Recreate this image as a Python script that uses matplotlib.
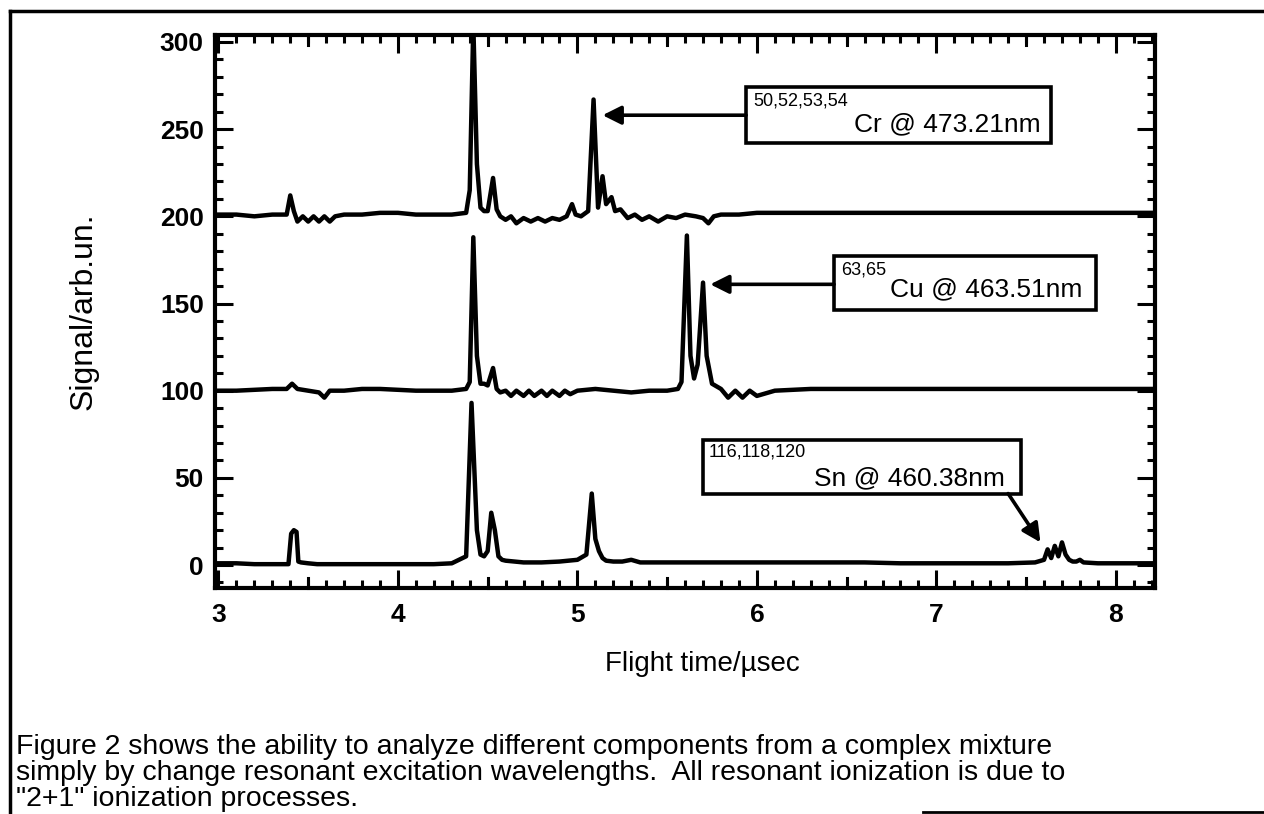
import numpy as np
import matplotlib.pyplot as plt
from matplotlib.patches import Rectangle
from matplotlib.lines import Line2D

plt.rcParams.update(
    {
        "font.family": ["Liberation Sans", "DejaVu Sans"],
        "axes.linewidth": 3.0,
        "xtick.direction": "in",
        "ytick.direction": "in",
    }
)

# trace values (flight time in usec, signal incl. offset)
cr_time = [2.98, 3.10, 3.20, 3.30, 3.38, 3.40, 3.42, 3.44, 3.47, 3.50, 3.53, 3.56,
           3.59, 3.62, 3.65, 3.70, 3.80, 3.90, 4.00, 4.10, 4.20, 4.30, 4.38, 4.40,
           4.42, 4.44, 4.46, 4.48, 4.50, 4.53, 4.55, 4.57, 4.60, 4.63, 4.66, 4.70,
           4.74, 4.78, 4.82, 4.86, 4.90, 4.94, 4.97, 4.99, 5.02, 5.06, 5.09, 5.115,
           5.14, 5.16, 5.19, 5.21, 5.24, 5.28, 5.32, 5.36, 5.40, 5.45, 5.50, 5.55,
           5.60, 5.66, 5.70, 5.73, 5.76, 5.80, 5.90, 6.00, 6.20, 6.50, 7.00, 7.50,
           8.00, 8.22]
cr_signal = [201, 201, 200, 201, 201, 212, 203, 197, 200, 197, 200, 197,
             200, 197, 200, 201, 201, 202, 202, 201, 201, 201, 202, 215,
             310, 230, 205, 203, 203, 222, 204, 200, 198, 200, 196, 199,
             197, 199, 197, 199, 198, 200, 207, 201, 200, 203, 267, 205,
             223, 207, 211, 203, 204, 199, 201, 198, 200, 197, 200, 199,
             201, 200, 199, 196, 200, 201, 201, 202, 202, 202, 202, 202,
             202, 202]

cu_time = [2.98, 3.10, 3.20, 3.30, 3.38, 3.41, 3.44, 3.50, 3.56, 3.59, 3.62, 3.70,
           3.80, 3.90, 4.00, 4.10, 4.20, 4.30, 4.38, 4.40, 4.42, 4.44, 4.46, 4.48,
           4.50, 4.53, 4.55, 4.57, 4.60, 4.63, 4.66, 4.70, 4.73, 4.76, 4.80, 4.83,
           4.86, 4.90, 4.93, 4.96, 5.00, 5.10, 5.20, 5.30, 5.40, 5.50, 5.56, 5.58,
           5.61, 5.63, 5.65, 5.67, 5.70, 5.72, 5.75, 5.80, 5.84, 5.88, 5.92, 5.96,
           6.00, 6.10, 6.30, 6.60, 7.00, 7.50, 8.00, 8.22]
cu_signal = [100, 100, 100.5, 101, 101, 104, 101, 100, 99, 96, 100, 100,
             101, 101, 100.5, 100, 100, 100, 101, 105, 188, 120, 104, 104,
             103, 113, 101, 99, 100, 97, 100, 97, 100, 97, 100, 97,
             100, 97, 100, 98, 100, 101, 100, 99, 100, 100, 101, 105,
             189, 120, 107, 115, 162, 120, 104, 101, 96, 100, 96, 100,
             97, 100, 101, 101, 101, 101, 101, 101]

sn_time = [2.98, 3.10, 3.20, 3.30, 3.39, 3.405, 3.42, 3.435, 3.445, 3.46, 3.50, 3.55,
           3.60, 3.70, 3.80, 3.90, 4.00, 4.10, 4.20, 4.30, 4.38, 4.41, 4.44, 4.46,
           4.48, 4.50, 4.52, 4.54, 4.56, 4.58, 4.60, 4.65, 4.70, 4.80, 4.90, 5.00,
           5.05, 5.08, 5.10, 5.12, 5.14, 5.16, 5.20, 5.25, 5.30, 5.35, 5.40, 5.50,
           5.60, 5.80, 6.00, 6.20, 6.40, 6.60, 6.80, 7.00, 7.20, 7.40, 7.55, 7.60,
           7.62, 7.64, 7.66, 7.68, 7.70, 7.72, 7.74, 7.76, 7.78, 7.80, 7.82, 7.90,
           8.00, 8.22]
sn_signal = [1, 1, 0.5, 0.5, 0.5, 18, 20, 19, 2, 1.5, 1, 0.5,
             0.5, 0.5, 0.5, 0.5, 0.5, 0.5, 0.5, 1, 5, 93, 20, 6,
             5, 8, 30, 20, 5, 3, 2.5, 2, 1.5, 1.5, 2, 3,
             6, 41, 15, 8, 4, 2.5, 2, 2, 3, 1.5, 1.5, 1.5,
             1.5, 1.5, 1.5, 1.5, 1.5, 1.5, 1, 1, 1, 1, 1.5, 3,
             9, 4, 11, 5, 13, 6, 3, 2, 2, 3, 1.5, 1,
             1, 1]

x_ticks = [3, 4, 5, 6, 7, 8]
y_ticks = [0, 50, 100, 150, 200, 250, 300]

labels = [
    ("50,52,53,54", "Cr @ 473.21nm"),
    ("63,65", "Cu @ 463.51nm"),
    ("116,118,120", "Sn @ 460.38nm"),
]

fig = plt.figure(figsize=(12.64, 8.14), dpi=100)
ax = fig.add_axes([0.170, 0.278, 0.744, 0.679])

for t, s in [(cr_time, cr_signal), (cu_time, cu_signal), (sn_time, sn_signal)]:
    ax.plot(t, s, color="black", lw=3.2, solid_joinstyle="round")

ax.set_xlim(2.98, 8.22)
ax.set_ylim(-13, 304)
ax.set_xticks(x_ticks)
ax.set_yticks(y_ticks)
ax.set_xticks(np.arange(3, 8.25, 0.1), minor=True)
ax.set_yticks(np.arange(-10, 305, 10), minor=True)
ax.tick_params(which="both", top=True, right=True, width=2.2)
ax.tick_params(which="major", length=13, labelsize=19, pad=8)
ax.tick_params(which="minor", length=6)
ax.tick_params(axis="x", which="major", pad=11)
for lab in ax.get_xticklabels() + ax.get_yticklabels():
    lab.set_fontweight("bold")

# half-unit ticks on the time axis are a bit longer than the minor ones
for xh in [3.5, 4.5, 5.5, 6.5, 7.5]:
    ax.plot([xh, xh], [-13, -13 + 5.5], color="black", lw=2.2, clip_on=False)
    ax.plot([xh, xh], [304, 304 - 5.5], color="black", lw=2.2, clip_on=False)

ax.set_xlabel("Flight time/\u00b5sec", fontsize=20)
ax.xaxis.set_label_coords(0.518, -0.114)
ax.set_ylabel("Signal/arb.un.", fontsize=23, labelpad=44)

# annotation boxes: (box x0, x1, y0, y1), superscript pos, text pos, arrow start, arrow tip
boxes = [
    ((5.94, 7.64, 242, 274), (5.98, 266), (6.54, 253), (5.94, 258), (5.14, 258)),
    ((6.43, 7.89, 146, 177), (6.47, 169), (6.74, 158), (6.43, 161), (5.74, 161)),
    ((5.70, 7.47, 41, 72), (5.73, 65), (6.32, 50), (7.40, 41), (7.58, 13)),
]
for (sup, main), (bx, sp, tp, a0, a1) in zip(labels, boxes):
    ax.add_patch(Rectangle((bx[0], bx[2]), bx[1] - bx[0], bx[3] - bx[2],
                           fill=False, lw=2.6, ec="black", zorder=4))
    ax.text(sp[0], sp[1], sup, fontsize=13, va="center", ha="left")
    ax.text(tp[0], tp[1], main, fontsize=19, va="center", ha="left")
    ax.annotate("", xy=a1, xytext=a0,
                arrowprops=dict(arrowstyle="-|>", lw=2.6, color="black",
                                mutation_scale=28, shrinkA=0, shrinkB=0))

# scanned page frame
fig.add_artist(Line2D([0.008, 1.0], [0.986, 0.986], color="black", lw=2.5))
fig.add_artist(Line2D([0.008, 0.008], [0.986, 0.0], color="black", lw=2.5))
fig.add_artist(Line2D([0.73, 1.0], [0.003, 0.003], color="black", lw=2.0))

caption = ("Figure 2 shows the ability to analyze different components from a complex mixture\n"
           "simply by change resonant excitation wavelengths.  All resonant ionization is due to\n"
           "\"2+1\" ionization processes.")
fig.text(0.013, 0.003, caption, fontsize=20.5, va="bottom", ha="left", linespacing=1.0)

plt.savefig("out.png", dpi=100)
